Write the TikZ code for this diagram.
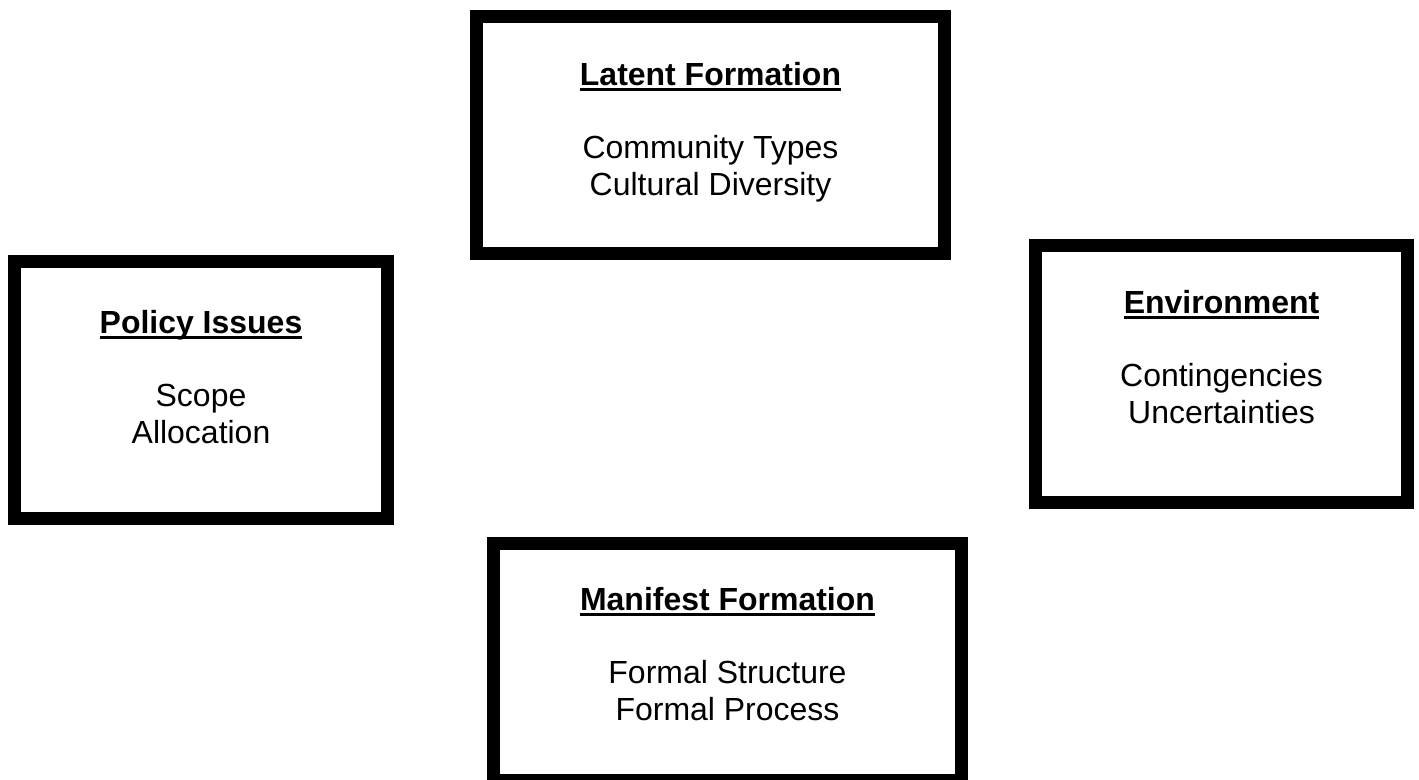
\documentclass[tikz,border=0pt]{standalone}
\usepackage{fontspec}
\setmainfont{Liberation Sans}
\usetikzlibrary{positioning}

\newsavebox{\headbox}
\newcommand{\boxhead}[1]{\sbox{\headbox}{\textbf{#1}}\rlap{\rule[-3.15pt]{\wd\headbox}{1.7pt}}\usebox{\headbox}}

\begin{document}
\begin{tikzpicture}[x=0.02cm, y=-0.02cm]

		\tikzstyle{thickbox} = [rectangle, draw, line width=0.26cm, minimum width=9.36cm, minimum height=4.74cm]
		\tikzstyle{boxtext} = [align=center, anchor=base, inner sep=0pt, font=\fontsize{18.2}{21}\selectfont]

		\useasboundingbox (0,0) rectangle (1419,780);

		% Define boxes
		\node[thickbox] (latent) at (710.5,135) {};
		\node[thickbox, minimum width=7.46cm, minimum height=5.14cm] (policy) at (201,390) {};
		\node[thickbox, minimum width=7.44cm, minimum height=5.14cm] (environ) at (1221.5,374) {};
		\node[thickbox] (manifest) at (727.5,662) {};

		% Box texts (base = last line)
		\node[boxtext] (latenttxt) at ([yshift=-1.5cm-63pt]latent.north) {\boxhead{Latent Formation}\\[21pt] Community Types\\ Cultural Diversity};
		\node[boxtext] (policytxt) at ([yshift=-1.56cm-63pt]policy.north) {\boxhead{Policy Issues}\\[21pt] Scope\\ Allocation};
		\node[boxtext] (environtxt) at ([yshift=-1.48cm-63pt]environ.north) {\boxhead{Environment}\\[21pt] Contingencies\\ Uncertainties};
		\node[boxtext] (manifesttxt) at ([yshift=-1.46cm-63pt]manifest.north) {\boxhead{Manifest Formation}\\[21pt] Formal Structure\\ Formal Process};

	\end{tikzpicture}
\end{document}
